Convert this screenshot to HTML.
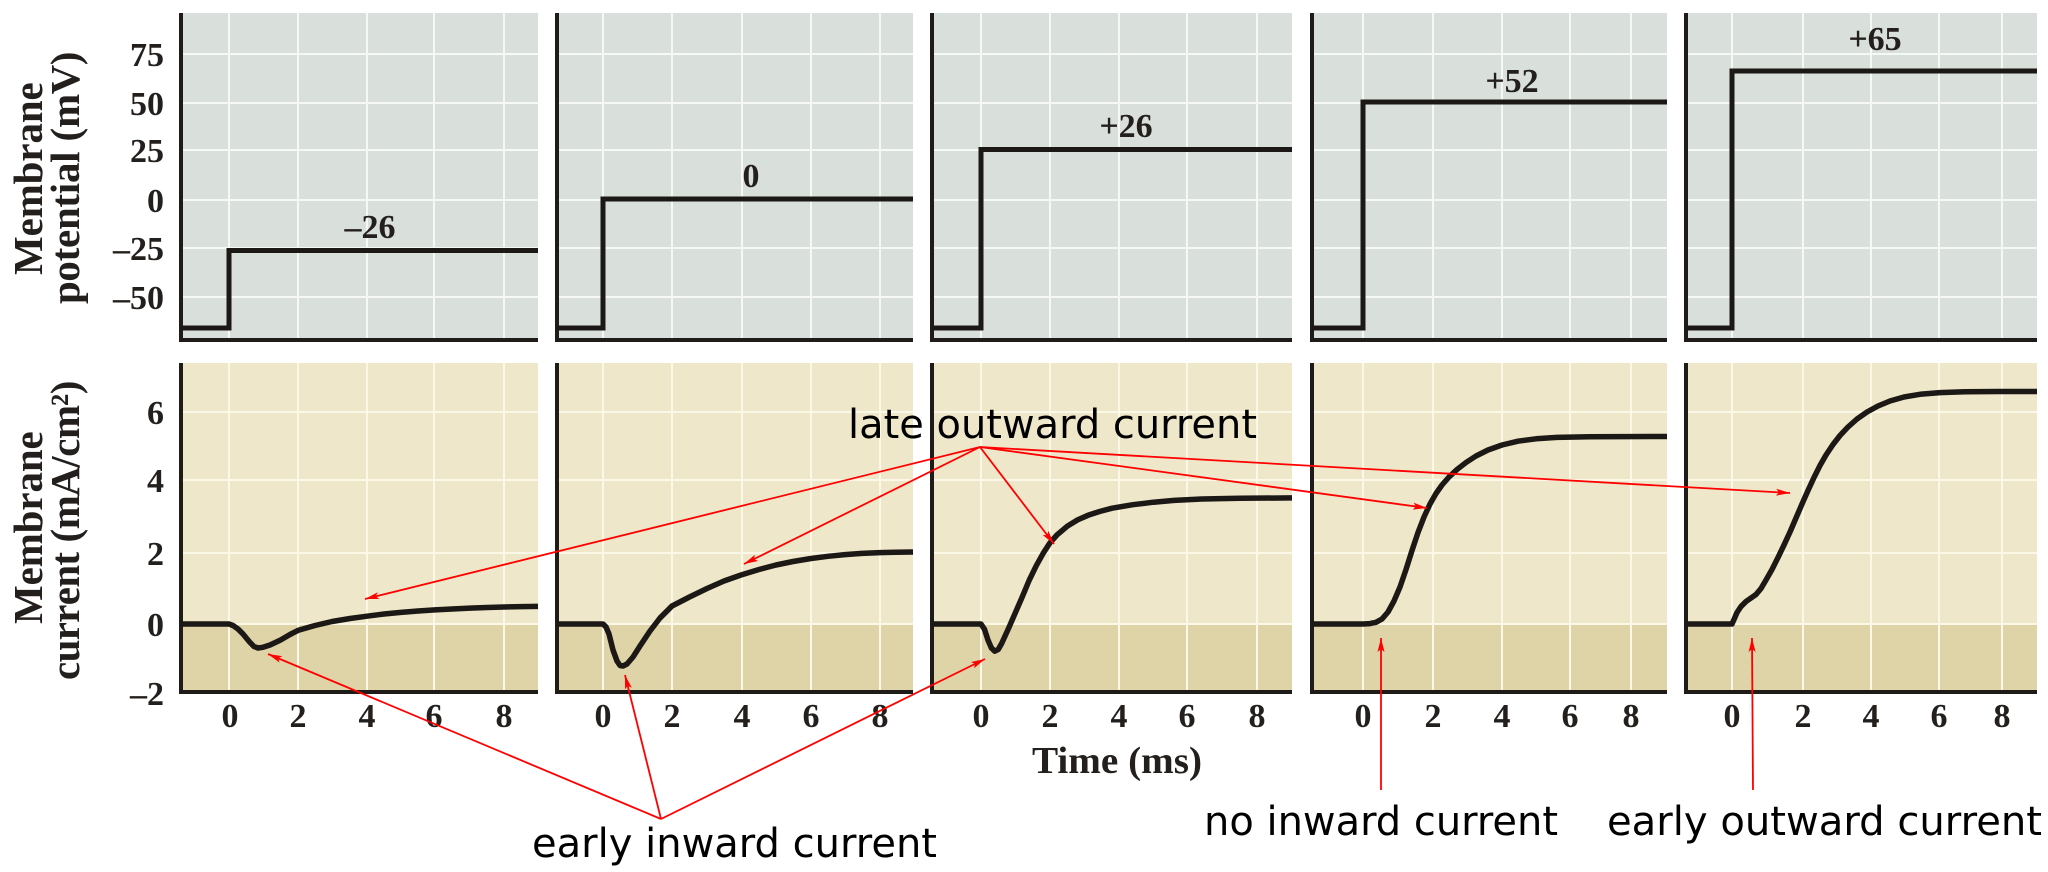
<!DOCTYPE html>
<html>
<head>
<meta charset="utf-8">
<style>
html,body{margin:0;padding:0;background:#fff;}
svg{display:block;}
.tk{font-family:"Liberation Serif",serif;font-weight:bold;font-size:34px;fill:#231f1c;}
.ttl{font-family:"Liberation Serif",serif;font-weight:bold;font-size:41px;fill:#231f1c;}
.ann{font-family:"DejaVu Sans","Liberation Sans",sans-serif;font-size:40px;fill:#000;}
</style>
</head>
<body>
<svg width="2048" height="872" viewBox="0 0 2048 872" xmlns="http://www.w3.org/2000/svg">
<defs>
<marker id="ah" viewBox="0 0 14 7" refX="14" refY="3.5" markerWidth="14" markerHeight="7" orient="auto" markerUnits="userSpaceOnUse">
<path d="M0,0 L14,3.5 L0,7 L3,3.5 z" fill="#ff0000"/>
</marker>
</defs>
<rect x="0" y="0" width="2048" height="872" fill="#ffffff"/>

<!-- Top panel backgrounds -->
<g fill="#d9dfdb">
<rect x="181" y="13" width="357" height="327"/>
<rect x="557" y="13" width="356" height="327"/>
<rect x="932" y="13" width="360" height="327"/>
<rect x="1312" y="13" width="355" height="327"/>
<rect x="1686" y="13" width="351" height="327"/>
</g>
<!-- Lower panel backgrounds -->
<g fill="#efe7c9">
<rect x="181" y="363" width="357" height="261"/>
<rect x="557" y="363" width="356" height="261"/>
<rect x="932" y="363" width="360" height="261"/>
<rect x="1312" y="363" width="355" height="261"/>
<rect x="1686" y="363" width="351" height="261"/>
</g>
<g fill="#dfd3a8">
<rect x="181" y="624" width="357" height="68"/>
<rect x="557" y="624" width="356" height="68"/>
<rect x="932" y="624" width="360" height="68"/>
<rect x="1312" y="624" width="355" height="68"/>
<rect x="1686" y="624" width="351" height="68"/>
</g>

<!-- Top grids -->
<g stroke="#f6f8f6" stroke-width="2" fill="none">
<path d="M229 13V340M298 13V340M367 13V340M434 13V340M504 13V340M181 54H538M181 103H538M181 150H538M181 200H538M181 248H538M181 297H538"/>
<path d="M603 13V340M672 13V340M742 13V340M811 13V340M880 13V340M557 54H913M557 103H913M557 150H913M557 200H913M557 248H913M557 297H913"/>
<path d="M981 13V340M1050 13V340M1119 13V340M1187 13V340M1257 13V340M932 54H1292M932 103H1292M932 150H1292M932 200H1292M932 248H1292M932 297H1292"/>
<path d="M1363 13V340M1433 13V340M1502 13V340M1570 13V340M1631 13V340M1312 54H1667M1312 103H1667M1312 150H1667M1312 200H1667M1312 248H1667M1312 297H1667"/>
<path d="M1732 13V340M1803 13V340M1871 13V340M1939 13V340M2002 13V340M1686 54H2037M1686 103H2037M1686 150H2037M1686 200H2037M1686 248H2037M1686 297H2037"/>
</g>
<!-- Lower grids -->
<g stroke="#fcf8e8" stroke-width="2" fill="none">
<path d="M229 363V692M298 363V692M367 363V692M434 363V692M504 363V692M181 412H538M181 480H538M181 553H538M181 624H538"/>
<path d="M603 363V692M672 363V692M742 363V692M811 363V692M880 363V692M557 412H913M557 480H913M557 553H913M557 624H913"/>
<path d="M981 363V692M1050 363V692M1119 363V692M1187 363V692M1257 363V692M932 412H1292M932 480H1292M932 553H1292M932 624H1292"/>
<path d="M1363 363V692M1433 363V692M1502 363V692M1570 363V692M1631 363V692M1312 412H1667M1312 480H1667M1312 553H1667M1312 624H1667"/>
<path d="M1732 363V692M1803 363V692M1871 363V692M1939 363V692M2002 363V692M1686 412H2037M1686 480H2037M1686 553H2037M1686 624H2037"/>
</g>

<!-- Axes -->
<g stroke="#1f1b18" stroke-width="4" fill="none">
<path d="M181 13V340H538"/>
<path d="M557 13V340H913"/>
<path d="M932 13V340H1292"/>
<path d="M1312 13V340H1667"/>
<path d="M1686 13V340H2037"/>
<path d="M181 363V692H538"/>
<path d="M557 363V692H913"/>
<path d="M932 363V692H1292"/>
<path d="M1312 363V692H1667"/>
<path d="M1686 363V692H2037"/>
</g>

<!-- Voltage steps -->
<g stroke="#1c1815" stroke-width="5" fill="none" stroke-linejoin="miter">
<path d="M181 328H229V250.5H538"/>
<path d="M557 328H603V199H913"/>
<path d="M932 328H981V149.5H1292"/>
<path d="M1312 328H1363V102H1667"/>
<path d="M1686 328H1732V71H2037"/>
</g>

<!-- Current traces -->
<g stroke="#1c1815" stroke-width="5.5" fill="none" stroke-linejoin="round" stroke-linecap="butt">
<polyline points="181,624 229,624 233,625.5 238,629 243,634 249.6,642 254,646.5 258,648 263,647.3 270,645 280.6,640 290,634.5 298,630.4 315,625.5 332,621.5 350,618.5 367,616.2 384,614 401,612.4 418,611 435,609.9 452,609 470,608.1 487,607.5 504,607 521,606.6 538,606.4"/>
<polyline points="557,624 603,624 606,627 609,634 613,650 617,661 620,665.5 623,666 627,664 633,657 640,646 650,631 660,618 672,606 689.5,597 707,588.5 724,581 741,575 759,569.5 776,565 793,561.5 811,558.5 828,556.3 845,554.6 862,553.4 880,552.6 896,552.2 913,552"/>
<polyline points="932,624 981,624 984.5,629.3 987.9,639.9 991.4,648 994.8,651.2 998.3,649.4 1001.7,643.4 1008.6,628.2 1015.5,612.4 1022.4,596.5 1029.3,580 1036.2,565.8 1043.1,553.4 1050,542.8 1056.9,535 1067.3,526.2 1077.6,519.9 1088,515.3 1100,511.4 1112.1,508.2 1132.8,504.7 1153.5,502.2 1174.2,500.4 1201.8,499 1239.8,498.3 1292,497.9"/>
<polyline points="1312,624 1363,624 1370,623.6 1376,622.3 1382,619 1388,612 1394,601 1400,587 1406,569.5 1412,550.5 1418,532.5 1424,517 1430,504 1436,493.5 1442,485 1449,477 1457,469.5 1466,462.5 1476,456 1488,450 1502,445 1518,441.2 1536,438.8 1557,437.4 1590,436.7 1667,436.5"/>
<polyline points="1686,624 1732,624 1734,619.5 1737,612.5 1741,606.5 1746,601.5 1751,598 1756,594.5 1761,588.5 1766,580 1772,569.5 1778,557.5 1784,545 1790,532 1796,518 1802,504 1808,490.5 1814,477.5 1820,465.5 1826,455 1833,444.5 1840,435.5 1848,427 1857,419 1867,412 1878,406 1890,401 1904,397 1920,394.3 1940,392.6 1965,391.8 2000,391.5 2037,391.5"/>
</g>

<!-- Y tick labels -->
<g class="tk" text-anchor="end">
<text x="164" y="66">75</text>
<text x="164" y="115">50</text>
<text x="164" y="162">25</text>
<text x="164" y="212">0</text>
<text x="164" y="260">–25</text>
<text x="164" y="309">–50</text>
<text x="164" y="424">6</text>
<text x="164" y="492">4</text>
<text x="164" y="565">2</text>
<text x="164" y="636">0</text>
<text x="164" y="705">–2</text>
</g>

<!-- X tick labels -->
<g class="tk" text-anchor="middle">
<text x="230" y="727">0</text><text x="298" y="727">2</text><text x="367" y="727">4</text><text x="434" y="727">6</text><text x="504" y="727">8</text>
<text x="603" y="727">0</text><text x="672" y="727">2</text><text x="742" y="727">4</text><text x="811" y="727">6</text><text x="880" y="727">8</text>
<text x="981" y="727">0</text><text x="1050" y="727">2</text><text x="1119" y="727">4</text><text x="1187" y="727">6</text><text x="1257" y="727">8</text>
<text x="1363" y="727">0</text><text x="1433" y="727">2</text><text x="1502" y="727">4</text><text x="1570" y="727">6</text><text x="1631" y="727">8</text>
<text x="1732" y="727">0</text><text x="1803" y="727">2</text><text x="1871" y="727">4</text><text x="1939" y="727">6</text><text x="2002" y="727">8</text>
</g>

<!-- Step value labels -->
<g class="tk" text-anchor="middle">
<text x="370" y="238">–26</text>
<text x="751" y="187">0</text>
<text x="1126" y="137">+26</text>
<text x="1512" y="92">+52</text>
<text x="1875" y="50">+65</text>
</g>

<!-- Axis titles (per-glyph positions) -->
<g class="ttl">
<g transform="translate(42,275) rotate(-90)">
<text x="0 38.6 56.7 90.7 113.3 131.5 151.9 174.5" y="0">Membrane</text>
</g>
<g transform="translate(79,304) rotate(-90)">
<text x="0 22.4 42.6 56 74 96.4 109.8 121 141.2 152.4 162.5 176 209.6 238.8" y="0">potential (mV)</text>
</g>
<g transform="translate(42,624) rotate(-90)">
<text x="0 38.6 56.7 90.7 113.3 131.5 151.9 174.5" y="0">Membrane</text>
</g>
<g transform="translate(79,680) rotate(-90)">
<text x="0 17.6 39.6 57.2 74.8 92.4 114.4 127.6 137.5 150.7 183.7 212.3 223.3 240.9 273.9 285.8" y="0">current (mA/cm²)</text>
</g>
<text x="1032" y="773" style="font-size:38px" textLength="170" lengthAdjust="spacingAndGlyphs">Time (ms)</text>
</g>

<!-- Annotation text -->
<g class="ann">
<text x="848" y="438" textLength="409" lengthAdjust="spacingAndGlyphs">late outward current</text>
<text x="532" y="857" textLength="405" lengthAdjust="spacingAndGlyphs">early inward current</text>
<text x="1204" y="835" textLength="354" lengthAdjust="spacingAndGlyphs">no inward current</text>
<text x="1607" y="835" textLength="435" lengthAdjust="spacingAndGlyphs">early outward current</text>
</g>

<!-- Arrows -->
<g stroke="#ff0000" stroke-width="1.8" fill="none" marker-end="url(#ah)">
<line x1="980" y1="447" x2="365" y2="599"/>
<line x1="980" y1="447" x2="744" y2="564"/>
<line x1="980" y1="447" x2="1054" y2="544"/>
<line x1="980" y1="447" x2="1427" y2="508"/>
<line x1="980" y1="447" x2="1790" y2="493"/>
<line x1="661" y1="819" x2="268" y2="654"/>
<line x1="661" y1="819" x2="625" y2="675"/>
<line x1="661" y1="819" x2="985" y2="659"/>
<line x1="1381" y1="790" x2="1381" y2="638"/>
<line x1="1753" y1="790" x2="1752" y2="638"/>
</g>
</svg>
</body>
</html>
